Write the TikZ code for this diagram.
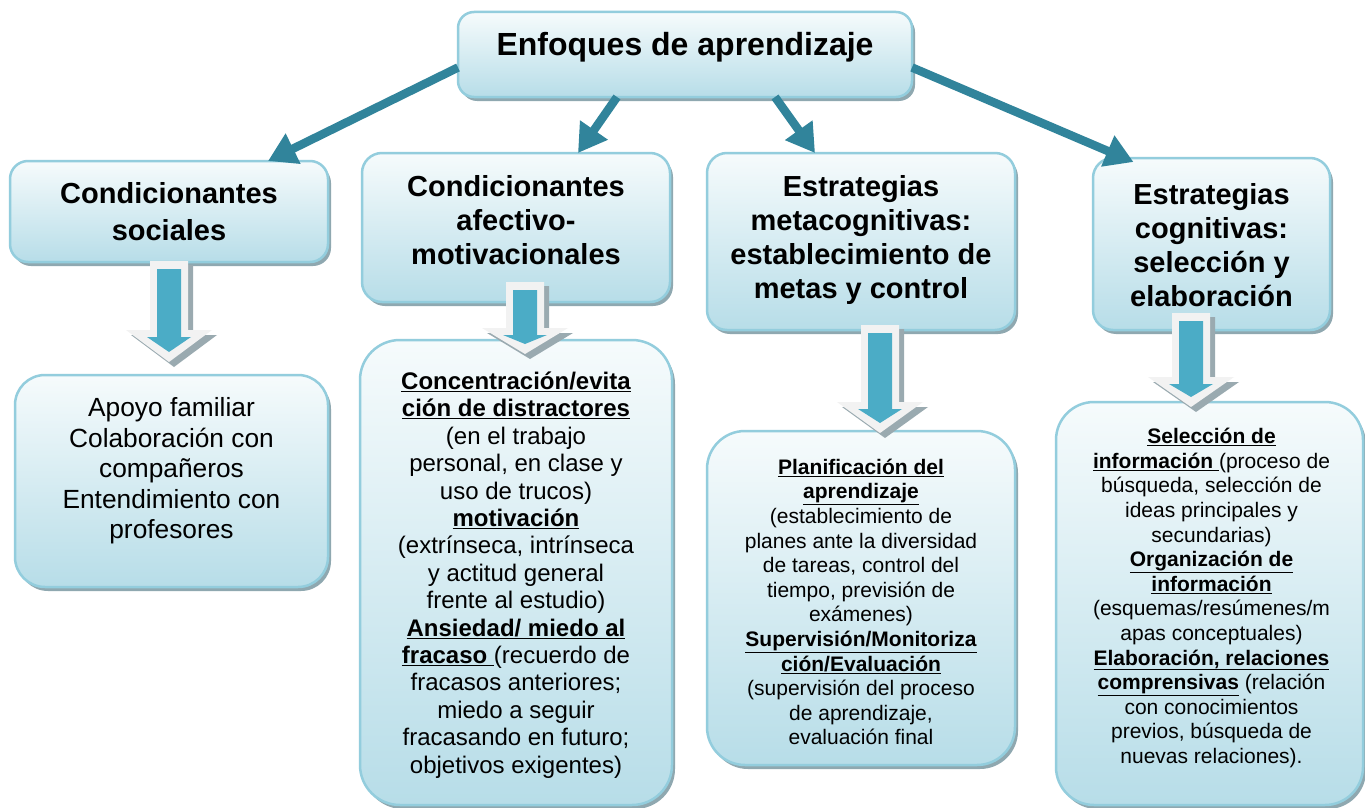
\documentclass[tikz,border=0pt]{standalone}
\usepackage{fontspec}
\setmainfont{Liberation Sans}
\usetikzlibrary{arrows.meta,shadows,calc}
\definecolor{teal1}{HTML}{31849B}
\definecolor{boxline}{HTML}{93CDDD}
\definecolor{boxbot}{HTML}{B7DDE8}
\definecolor{boxtop}{HTML}{F6FBFC}
\definecolor{shadowc}{HTML}{8FA8B0}
\definecolor{arrin}{HTML}{4BACC6}
\definecolor{arrout}{HTML}{F2F2F2}
\definecolor{arrsh}{HTML}{9AAAB0}
\tikzset{
  panel/.style={draw=boxline, line width=2.5pt, top color=boxtop, bottom color=boxbot,
    drop shadow={shadow xshift=3pt, shadow yshift=-4pt, fill=shadowc, opacity=1},
    inner sep=0pt, outer sep=0pt},
  conn/.style={draw=teal1, line width=8.5pt, -{Triangle[length=28pt,width=32pt]}},
  hdtext/.style={align=center, inner sep=0pt, font=\fontsize{29}{34}\selectfont\bfseries},
  bodytext/.style={align=center, inner sep=0pt},
}
\newcommand{\myblockarrow}[4]{%
  \fill[arrsh] ({#1-14},{#2+4}) -- ({#1+24},{#2+4}) -- ({#1+24},{#3+5}) -- ({#1+48},{#3+5}) -- ({#1+5},{#4+5}) -- ({#1-38},{#3+5}) -- ({#1-14},{#3+5}) -- cycle;
  \fill[arrout] ({#1-19},{#2}) -- ({#1+19},{#2}) -- ({#1+19},{#3}) -- ({#1+43},{#3}) -- ({#1},{#4}) -- ({#1-43},{#3}) -- ({#1-19},{#3}) -- cycle;
  \fill[arrin] ({#1-12},{#2+8}) -- ({#1+12},{#2+8}) -- ({#1+12},{#3+7}) -- ({#1+22},{#3+7}) -- ({#1},{#4-10}) -- ({#1-22},{#3+7}) -- ({#1-12},{#3+7}) -- cycle;
}
\begin{document}
\begin{tikzpicture}[x=1pt,y=-1pt]
\useasboundingbox[fill=white] (0,0) rectangle (1365,808);

% boxes
\node[panel, rounded corners=16pt, minimum width=454pt, minimum height=85pt] (top) at (685,54.5) {};
\node[panel, rounded corners=18pt, minimum width=318pt, minimum height=101pt] (h1) at (169,211.5) {};
\node[panel, rounded corners=20pt, minimum width=308pt, minimum height=149pt] (h2) at (516,227.5) {};
\node[panel, rounded corners=20pt, minimum width=308pt, minimum height=177pt] (h3) at (861,241.5) {};
\node[panel, rounded corners=20pt, minimum width=237pt, minimum height=172pt] (h4) at (1211.5,244) {};
\node[panel, rounded corners=30pt, minimum width=313pt, minimum height=212pt] (b1) at (171.5,481) {};
\node[panel, rounded corners=40pt, minimum width=312pt, minimum height=465pt] (b2) at (516,572.5) {};
\node[panel, rounded corners=38pt, minimum width=308pt, minimum height=334pt] (b3) at (861,598) {};
\node[panel, rounded corners=38pt, minimum width=307pt, minimum height=403pt] (b4) at (1209.5,603.5) {};

% connectors
\draw[conn] ([yshift=-13pt]top.west) -- ([xshift=99pt]h1.north);
\draw[conn] ([xshift=-68pt]top.south) -- ([xshift=62pt]h2.north);
\draw[conn] ([xshift=90pt]top.south) -- ([xshift=-46pt]h3.north);
\draw[conn] ([yshift=-13pt]top.east) -- ([xshift=-78pt,yshift=-4pt]h4.north);

% texts
\node[inner sep=0pt, font=\fontsize{32}{38}\selectfont\bfseries] (t0) at (685,47) {Enfoques de aprendizaje};
\node[hdtext, font=\fontsize{29}{37}\selectfont\bfseries] (th1) at (169,212) {Condicionantes\\sociales};
\node[hdtext] (th2) at (516,220) {Condicionantes\\afectivo-\\motivacionales};
\node[hdtext] (th3) at (861,240) {Estrategias\\metacognitivas:\\establecimiento de\\metas y control};
\node[hdtext] (th4) at (1211.5,245) {Estrategias\\cognitivas:\\selección y\\elaboración};

\node[bodytext, font=\fontsize{26.3}{30.5}\selectfont] (tb1) at (171.5,471)
  {Apoyo familiar\\Colaboración con\\compañeros\\Entendimiento con\\profesores};
\node[bodytext, font=\fontsize{24}{27.4}\selectfont] (tb2) at (516,575)
  {\underline{\textbf{Concentración/evita}}\\
   \underline{\textbf{ción de distractores}}\\
   (en el trabajo\\personal, en clase y\\uso de trucos)\\
   \underline{\textbf{motivación}}\\
   (extrínseca, intrínseca\\y actitud general\\frente al estudio)\\
   \underline{\textbf{Ansiedad/ miedo al}}\\
   \underline{\textbf{fracaso\ }}(recuerdo de\\
   fracasos anteriores;\\miedo a seguir\\fracasando en futuro;\\objetivos exigentes)};
\node[bodytext, font=\fontsize{21}{24.6}\selectfont] (tb3) at (861,602)
  {\underline{\textbf{Planificación del}}\\
   \underline{\textbf{aprendizaje}}\\
   (establecimiento de\\planes ante la diversidad\\de tareas, control del\\tiempo, previsión de\\exámenes)\\
   \underline{\textbf{Supervisión/Monitoriza}}\\
   \underline{\textbf{ción/Evaluación}}\\
   (supervisión del proceso\\de aprendizaje,\\evaluación final};
\node[bodytext, font=\fontsize{21}{24.6}\selectfont] (tb4) at (1211.5,598)
  {\underline{\textbf{Selección de}}\\
   \underline{\textbf{información\ }}(proceso de\\
   búsqueda, selección de\\ideas principales y\\secundarias)\\
   \underline{\textbf{Organización de}}\\
   \underline{\textbf{información}}\\
   (esquemas/resúmenes/m\\apas conceptuales)\\
   \underline{\textbf{Elaboración, relaciones}}\\
   \underline{\textbf{comprensivas}} (relación\\
   con conocimientos\\previos, búsqueda de\\nuevas relaciones).};

% block arrows
\myblockarrow{169}{261}{330}{362}
\myblockarrow{525}{282}{328}{354}
\myblockarrow{880}{325}{402}{433}
\myblockarrow{1191}{313}{377}{407}
\end{tikzpicture}
\end{document}
